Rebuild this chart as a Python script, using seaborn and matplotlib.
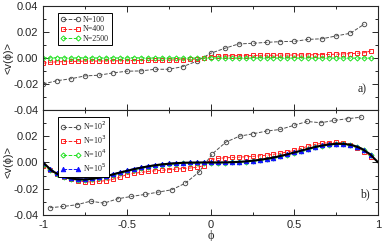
import numpy as np
import matplotlib
matplotlib.use("Agg")
import matplotlib.pyplot as plt
from matplotlib.ticker import MultipleLocator
import seaborn as sns

# ---- data ----
# coarse grids (N=100 curves), fine grid (other N), theory grid
phi_top_100 = np.linspace(-1.0, 0.9167, 24)
phi_bot_100 = np.linspace(-0.96, 0.90, 24)
phi_fine = np.arange(48) / 24.0 - 1.0
phi_theory = np.arange(41) * 0.05 - 1.0

top_n100 = [-0.0200, -0.0175, -0.0160, -0.0138, -0.0133, -0.0115, -0.0102, -0.0100,
            -0.0087, -0.0087, -0.0067, -0.0025, 0.0036, 0.0074, 0.0108, 0.0113,
            0.0120, 0.0126, 0.0128, 0.0143, 0.0148, 0.0170, 0.0190, 0.0260]
top_n400 = [-0.0041, -0.0033, -0.0030, -0.0028, -0.0027, -0.0026, -0.0025, -0.0024,
            -0.0024, -0.0023, -0.0022, -0.0022, -0.0021, -0.0020, -0.0020, -0.0019,
            -0.0018, -0.0018, -0.0016, -0.0015, -0.0013, -0.0011, -0.0008, -0.0003,
            0.0008, 0.0014, 0.0016, 0.0017, 0.0018, 0.0018, 0.0019, 0.0020,
            0.0021, 0.0021, 0.0022, 0.0022, 0.0023, 0.0023, 0.0024, 0.0025,
            0.0026, 0.0027, 0.0029, 0.0031, 0.0033, 0.0036, 0.0040, 0.0055]
top_n2500 = [0.0002, 0.0001, 0.0002, 0.0001, 0.0000, 0.0001, 0.0002, 0.0001,
             0.0000, 0.0001, 0.0001, 0.0000, 0.0001, 0.0002, 0.0001, 0.0000,
             0.0001, 0.0001, 0.0000, 0.0001, 0.0000, 0.0000, -0.0001, 0.0000,
             0.0000, 0.0001, 0.0000, -0.0001, 0.0000, 0.0000, -0.0001, 0.0000,
             -0.0001, 0.0000, -0.0001, -0.0001, 0.0000, -0.0001, 0.0000, -0.0001,
             -0.0001, 0.0000, -0.0001, 0.0000, -0.0001, -0.0001, 0.0000, -0.0001]

bot_n1e2 = [-0.0345, -0.0335, -0.0322, -0.0295, -0.0310, -0.0277, -0.0259, -0.0244,
            -0.0226, -0.0208, -0.0158, -0.0074, 0.0066, 0.0155, 0.0200, 0.0218,
            0.0239, 0.0251, 0.0282, 0.0312, 0.0302, 0.0320, 0.0333, 0.0345]
bot_n1e3 = [-0.0030, -0.0060, -0.0090, -0.0110, -0.0128, -0.0140, -0.0148, -0.0148,
            -0.0145, -0.0138, -0.0128, -0.0112, -0.0092, -0.0083, -0.0076, -0.0069,
            -0.0064, -0.0060, -0.0055, -0.0051, -0.0047, -0.0043, -0.0037, -0.0025,
            0.0022, 0.0030, 0.0035, 0.0038, 0.0040, 0.0043, 0.0046, 0.0050,
            0.0055, 0.0062, 0.0070, 0.0080, 0.0092, 0.0108, 0.0124, 0.0138,
            0.0146, 0.0151, 0.0153, 0.0147, 0.0133, 0.0112, 0.0082, 0.0045]
bot_n1e4 = [-0.0020, -0.0058, -0.0091, -0.0112, -0.0125, -0.0132, -0.0134, -0.0129,
            -0.0120, -0.0109, -0.0095, -0.0081, -0.0068, -0.0055, -0.0044, -0.0034,
            -0.0026, -0.0019, -0.0014, -0.0010, -0.0007, -0.0005, -0.0004, -0.0003,
            -0.0002, -0.0002, -0.0001, 0.0000, 0.0002, 0.0006, 0.0011, 0.0018,
            0.0026, 0.0035, 0.0046, 0.0060, 0.0074, 0.0088, 0.0102, 0.0116,
            0.0127, 0.0135, 0.0140, 0.0139, 0.0132, 0.0117, 0.0091, 0.0055]
bot_n1e5 = [-0.0002, -0.0048, -0.0082, -0.0104, -0.0117, -0.0124, -0.0126, -0.0121,
            -0.0112, -0.0101, -0.0087, -0.0073, -0.0060, -0.0047, -0.0036, -0.0027,
            -0.0019, -0.0012, -0.0007, -0.0003, -0.0001, 0.0000, 0.0000, 0.0000,
            0.0000, 0.0000, 0.0001, 0.0002, 0.0004, 0.0008, 0.0013, 0.0020,
            0.0028, 0.0037, 0.0048, 0.0062, 0.0076, 0.0090, 0.0104, 0.0118,
            0.0129, 0.0137, 0.0142, 0.0141, 0.0134, 0.0119, 0.0093, 0.0057]
theory = [0.0000, -0.0062, -0.0098, -0.0118, -0.0128, -0.0130, -0.0124, -0.0112,
          -0.0097, -0.0080, -0.0064, -0.0049, -0.0036, -0.0025, -0.0016, -0.0010,
          -0.0005, -0.0002, -0.0001, 0.0000, 0.0000, 0.0000, 0.0001, 0.0003,
          0.0007, 0.0013, 0.0021, 0.0031, 0.0044, 0.0059, 0.0076, 0.0093,
          0.0110, 0.0125, 0.0136, 0.0142, 0.0141, 0.0130, 0.0106, 0.0064, 0.0000]

sns.set_style("ticks")
plt.rcParams['font.family'] = ['Liberation Sans', 'DejaVu Sans']
plt.rcParams['axes.linewidth'] = 0.8

fig = plt.figure(figsize=(3.82, 2.41), dpi=100)
ax1 = fig.add_axes([0.113, 0.544, 0.877, 0.431])
ax2 = fig.add_axes([0.113, 0.108, 0.877, 0.436], sharex=ax1)

ms = 3.2
lw = 0.7
grey = '#505050'
red = '#ff2020'
green = '#20e020'
blue = '#1010ff'


def series(ax, x, y, color, marker, label, filled=False, size=ms):
    sns.lineplot(x=x, y=y, ax=ax, color=color, linestyle='--', linewidth=lw,
                 marker=marker, markersize=size, markeredgewidth=0.7,
                 markeredgecolor=color,
                 markerfacecolor=color if filled else 'none', label=label)


# ---- top panel ----
series(ax1, phi_top_100, top_n100, grey, 'o', 'N=100')
series(ax1, phi_fine, top_n400, red, 's', 'N=400')
series(ax1, phi_fine, top_n2500, green, 'D', 'N=2500', size=2.6)

# ---- bottom panel ----
series(ax2, phi_bot_100, bot_n1e2, grey, 'o', r'N=10$^2$')
series(ax2, phi_fine, bot_n1e3, red, 's', r'N=10$^3$')
series(ax2, phi_fine, bot_n1e4, green, 'D', r'N=10$^4$', size=2.6)
series(ax2, phi_fine, bot_n1e5, blue, '^', r'N=10$^5$', filled=True)
sns.lineplot(x=phi_theory, y=theory, ax=ax2, color='black', linewidth=1.5)


def yfmt_top(v, p):
    return '%.2f' % v


def yfmt_bot(v, p):
    return '' if v > 0.03 else '%.2f' % v


for ax, fmt in ((ax1, yfmt_top), (ax2, yfmt_bot)):
    ax.set_xlim(-1, 1)
    ax.set_ylim(-0.04, 0.04)
    ax.xaxis.set_major_locator(MultipleLocator(0.5))
    ax.xaxis.set_minor_locator(MultipleLocator(0.25))
    ax.yaxis.set_major_locator(MultipleLocator(0.02))
    ax.yaxis.set_minor_locator(MultipleLocator(0.01))
    ax.tick_params(which='both', direction='in', top=True, right=True,
                   labelsize=8, width=0.7)
    ax.tick_params(which='major', length=4)
    ax.tick_params(which='minor', length=2)
    ax.set_ylabel('<v(\u03d5)>', fontsize=8)
    ax.yaxis.set_label_coords(-0.088, 0.5)
    ax.yaxis.set_major_formatter(plt.FuncFormatter(fmt))
    leg = ax.legend(loc='upper left', bbox_to_anchor=(0.045, 0.93), fancybox=False,
                    edgecolor='black', framealpha=1, numpoints=2,
                    prop={'family': 'Liberation Serif', 'size': 5.8},
                    handlelength=2.4, handletextpad=0.4, borderpad=0.3,
                    labelspacing=0.2, borderaxespad=0)
    leg.get_frame().set_linewidth(0.7)

plt.setp(ax1.get_xticklabels(), visible=False)
ax1.set_xlabel('')
ax2.set_xlabel('\u03d5', fontsize=9, labelpad=0, family='Liberation Serif')
ax2.set_xticks([-1, -0.5, 0, 0.5, 1])
ax2.set_xticklabels(['-1', '-0.5', '0', '0.5', '1'])

ax1.text(0.94, 0.17, 'a)', transform=ax1.transAxes, fontsize=8.5,
         family='Liberation Serif', ha='left')
ax2.text(0.945, 0.17, 'b)', transform=ax2.transAxes, fontsize=8.5,
         family='Liberation Serif', ha='left')

fig.savefig('out.png', dpi=100)
